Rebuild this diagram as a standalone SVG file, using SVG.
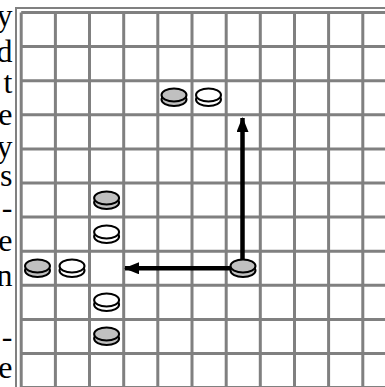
<svg xmlns="http://www.w3.org/2000/svg" width="385" height="387" viewBox="0 0 385 387">
<style>
.g{stroke:#808080;stroke-width:3;fill:none}
.ob{stroke:#808080;stroke-width:2;fill:none}
.t{font-family:"Liberation Serif","Times New Roman",serif;font-size:32px;fill:#000;text-anchor:end}
.dk{fill:#c0c0c0;stroke:#000;stroke-width:2}
.wt{fill:#fff;stroke:#000;stroke-width:2}
.arr{stroke:#000;stroke-width:4.5;fill:none}
</style>
<defs>
<marker id="ah" markerUnits="userSpaceOnUse" markerWidth="16" markerHeight="12" refX="14" refY="6" orient="auto">
<path d="M0,0 L15,6 L0,12 z" fill="#000"/>
</marker>
<g id="diskG">
<ellipse cx="0" cy="2.5" rx="12.5" ry="6.5"/>
<ellipse cx="0" cy="-2" rx="12.5" ry="6.5"/>
</g>
</defs>
<rect width="385" height="387" fill="#fff"/>
<g id="text">
<text class="t" x="12.5" y="26">y</text>
<text class="t" x="12.5" y="62">d</text>
<text class="t" x="12.5" y="93">t</text>
<text class="t" x="12.5" y="125">e</text>
<text class="t" x="12.5" y="157">y</text>
<text class="t" x="12.5" y="186">s</text>
<text class="t" x="12.5" y="218">-</text>
<text class="t" x="12.5" y="251">e</text>
<text class="t" x="12.5" y="286">n</text>
<text class="t" x="12.5" y="347">-</text>
<text class="t" x="12.5" y="378">e</text>
</g>
<g id="board">
<path class="ob" d="M16,395 V8 H395"/>
<path class="g" d="M21.2,12.5 V395 M55.4,12.5 V395 M89.5,12.5 V395 M123.7,12.5 V395 M157.8,12.5 V395 M192,12.5 V395 M226.2,12.5 V395 M260.3,12.5 V395 M294.5,12.5 V395 M328.6,12.5 V395 M362.8,12.5 V395"/>
<path class="g" d="M21.2,12.5 H395 M21.2,46.6 H395 M21.2,80.7 H395 M21.2,114.8 H395 M21.2,148.9 H395 M21.2,183 H395 M21.2,217.1 H395 M21.2,251.2 H395 M21.2,285.3 H395 M21.2,319.4 H395 M21.2,353.5 H395 M21.2,387.6 H395"/>
</g>
<g id="connectors">
<path class="arr" d="M242.5,262 V118" marker-end="url(#ah)"/>
<path class="arr" d="M236,268.3 H125" marker-end="url(#ah)"/>
</g>
<g id="d1" class="dk"><use href="#diskG" x="174" y="97"/></g>
<g id="d2" class="wt"><use href="#diskG" x="208.5" y="97"/></g>
<g id="d3" class="dk"><use href="#diskG" x="106.6" y="200"/></g>
<g id="d4" class="wt"><use href="#diskG" x="106.6" y="234"/></g>
<g id="d5" class="dk"><use href="#diskG" x="37.5" y="268"/></g>
<g id="d6" class="wt"><use href="#diskG" x="72" y="268"/></g>
<g id="d7" class="dk"><use href="#diskG" x="243" y="268"/></g>
<g id="d8" class="wt"><use href="#diskG" x="106.6" y="302"/></g>
<g id="d9" class="dk"><use href="#diskG" x="106.6" y="336"/></g>
</svg>
